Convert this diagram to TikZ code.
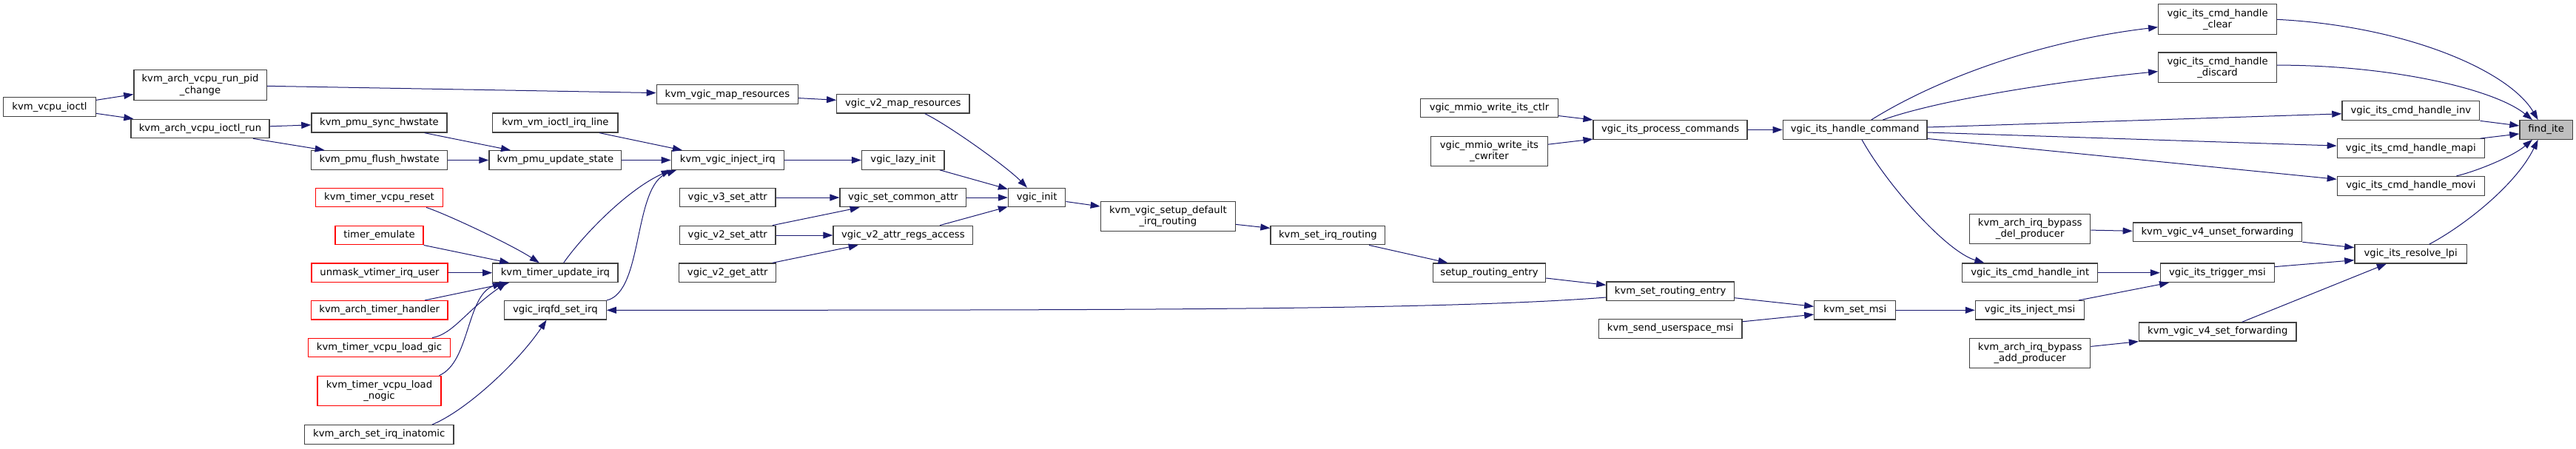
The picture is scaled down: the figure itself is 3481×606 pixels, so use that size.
\documentclass[tikz,border=0pt]{standalone}
\usepackage{fontspec}
\setmainfont{DejaVu Sans}
\usetikzlibrary{arrows.meta}
\definecolor{edgec}{HTML}{191970}
\definecolor{boxc}{HTML}{404040}
\definecolor{findfill}{HTML}{BFBFBF}
\tikzset{
  box/.style={draw=boxc, line width=1.3pt, fill=white, inner sep=0pt, align=center,
    font=\fontsize{13.2}{15.1}\selectfont},
  trunc/.style={box, draw=red},
  focus/.style={box, fill=findfill},
  call/.style={draw=edgec, line width=1pt, -{Triangle[length=13pt,width=9pt]}},
}
\newcommand\mkbox[7][box]{%
  \pgfmathsetmacro\bxw{#5-#3}\pgfmathsetmacro\bxh{#6-#4}%
  \pgfmathsetmacro\bxx{(#3+#5)/2}\pgfmathsetmacro\bxy{-(#4+#6)/2}%
  \node[#1,minimum width=\bxw pt,minimum height=\bxh pt] (#2) at (\bxx,\bxy) {#7};}
\begin{document}
\begin{tikzpicture}[x=1pt,y=1pt]
\fill[white] (0,0) rectangle (3481,-606);
\useasboundingbox (0,0) rectangle (3481,-606);
% nodes
\mkbox{vcpuioctl}{4.6}{131.8}{129.5}{157.3}{kvm\_vcpu\_ioctl}
\mkbox{runpid}{180.9}{94.7}{360.2}{135.3}{kvm\_arch\_vcpu\_run\_pid\\\_change}
\mkbox{ioctlrun}{177}{161.2}{364}{186.7}{kvm\_arch\_vcpu\_ioctl\_run}
\mkbox{pmusync}{420.9}{153}{604.1}{179}{kvm\_pmu\_sync\_hwstate}
\mkbox{pmuflush}{420.5}{203.7}{604.8}{229.2}{kvm\_pmu\_flush\_hwstate}
\mkbox[trunc]{tvreset}{426.7}{254.3}{598.3}{279.8}{kvm\_timer\_vcpu\_reset}
\mkbox[trunc]{temul}{453}{305.3}{572}{330.8}{timer\_emulate}
\mkbox[trunc]{unmask}{421}{356}{605}{381.5}{unmask\_vtimer\_irq\_user}
\mkbox[trunc]{athandler}{420.5}{406.6}{605}{432}{kvm\_arch\_timer\_handler}
\mkbox[trunc]{loadgic}{416.5}{457.2}{608.5}{482.7}{kvm\_timer\_vcpu\_load\_gic}
\mkbox[trunc]{loadnogic}{429}{508.2}{596}{548.8}{kvm\_timer\_vcpu\_load\\\_nogic}
\mkbox{inatomic}{411.6}{574.7}{613}{600.2}{kvm\_arch\_set\_irq\_inatomic}
\mkbox{mapres}{887.3}{114.8}{1078.5}{140.3}{kvm\_vgic\_map\_resources}
\mkbox{v2mapres}{1130.7}{127.5}{1310}{153}{vgic\_v2\_map\_resources}
\mkbox{irqline}{665.8}{153}{835}{179}{kvm\_vm\_ioctl\_irq\_line}
\mkbox{pmuupd}{661}{203.7}{839.7}{229.2}{kvm\_pmu\_update\_state}
\mkbox{inject}{907.3}{203.7}{1059.2}{229.2}{kvm\_vgic\_inject\_irq}
\mkbox{lazy}{1164.6}{203.7}{1276}{229.2}{vgic\_lazy\_init}
\mkbox{v3set}{918.6}{254.3}{1048}{279.8}{vgic\_v3\_set\_attr}
\mkbox{common}{1135}{254.3}{1305.7}{279.8}{vgic\_set\_common\_attr}
\mkbox{v2set}{918.6}{305.3}{1048}{330.8}{vgic\_v2\_set\_attr}
\mkbox{regs}{1126}{305.3}{1314.6}{330.8}{vgic\_v2\_attr\_regs\_access}
\mkbox{v2get}{917.8}{356}{1048.8}{381.5}{vgic\_v2\_get\_attr}
\mkbox{tupd}{665.8}{356}{835}{381.5}{kvm\_timer\_update\_irq}
\mkbox{irqfd}{681.6}{406.6}{819.2}{432}{vgic\_irqfd\_set\_irq}
\mkbox{vinit}{1362.5}{254.3}{1439.8}{279.8}{vgic\_init}
\mkbox{setupdef}{1487.3}{272.5}{1669.4}{312.3}{kvm\_vgic\_setup\_default\\\_irq\_routing}
\mkbox{setirqr}{1717}{305.3}{1871.8}{330.8}{kvm\_set\_irq\_routing}
\mkbox{ctlr}{1919.7}{133.3}{2105.2}{158.5}{vgic\_mmio\_write\_its\_ctlr}
\mkbox{cwriter}{1933.6}{184.7}{2091.3}{224.5}{vgic\_mmio\_write\_its\\\_cwriter}
\mkbox{process}{2153.1}{162.7}{2361}{188.2}{vgic\_its\_process\_commands}
\mkbox{setupre}{1936.3}{356}{2088.6}{381.5}{setup\_routing\_entry}
\mkbox{setre}{2170.9}{381}{2343.3}{406.6}{kvm\_set\_routing\_entry}
\mkbox{userspace}{2160.5}{431.7}{2354}{457.2}{kvm\_send\_userspace\_msi}
\mkbox{handle}{2409.3}{162.7}{2604}{188.2}{vgic\_its\_handle\_command}
\mkbox{setmsi}{2451.8}{406.6}{2561.5}{432}{kvm\_set\_msi}
\mkbox{injmsi}{2669.4}{406.6}{2816.6}{432}{vgic\_its\_inject\_msi}
\mkbox{cmdint}{2651.6}{356}{2834.8}{381.5}{vgic\_its\_cmd\_handle\_int}
\mkbox{delprod}{2661.6}{289.5}{2824.7}{329.7}{kvm\_arch\_irq\_bypass\\\_del\_producer}
\mkbox{addprod}{2661.6}{457.6}{2824.7}{497.8}{kvm\_arch\_irq\_bypass\\\_add\_producer}
\mkbox{clear}{2916.7}{5.8}{3076.4}{46.4}{vgic\_its\_cmd\_handle\\\_clear}
\mkbox{discard}{2916.7}{71.1}{3076.4}{111.7}{vgic\_its\_cmd\_handle\\\_discard}
\mkbox{inv}{3164.9}{136.8}{3350.8}{162.7}{vgic\_its\_cmd\_handle\_inv}
\mkbox{mapi}{3158.3}{187.8}{3357.3}{213.3}{vgic\_its\_cmd\_handle\_mapi}
\mkbox{movi}{3158.3}{238.5}{3357.3}{264.4}{vgic\_its\_cmd\_handle\_movi}
\mkbox[focus]{findite}{3404.9}{162.7}{3476.4}{188.2}{find\_ite}
\mkbox{unset}{2882.3}{301}{3110.8}{326.6}{kvm\_vgic\_v4\_unset\_forwarding}
\mkbox{resolve}{3181.9}{330.8}{3333.4}{356}{vgic\_its\_resolve\_lpi}
\mkbox{trigger}{2919.4}{356}{3073.3}{381.5}{vgic\_its\_trigger\_msi}
\mkbox{setfwd}{2890.5}{436}{3103}{461}{kvm\_vgic\_v4\_set\_forwarding}
% edges
\draw[call] ([yshift=9.25]vcpuioctl.east) -- ([yshift=-12.5]runpid.west);
\draw[call] ([yshift=-8.85]vcpuioctl.east) -- ([xshift=4]ioctlrun.north west);
\draw[call] ([yshift=-1.3]runpid.east) -- ([yshift=1.95]mapres.west);
\draw[call] ([yshift=3.15]ioctlrun.east) -- ([yshift=-2.9]pmusync.west);
\draw[call] ([xshift=71.5]ioctlrun.south) -- ([xshift=-74]pmuflush.north);
\draw[call] ([xshift=61.2]pmusync.south) -- ([xshift=-60.4]pmuupd.north);
\draw[call] (pmuflush.east) -- (pmuupd.west);
\draw[call] ([xshift=59.6]irqline.south) -- ([xshift=-61.3]inject.north);
\draw[call] (pmuupd.east) -- (inject.west);
\draw[call] ([xshift=63.5]tvreset.south) .. controls (600,-288) and (690,-330) .. ([xshift=-21.6]tupd.north);
\draw[call] (temul.south east) -- ([xshift=-62.2]tupd.north);
\draw[call] (unmask.east) -- (tupd.west);
\draw[call] ([xshift=61.25]athandler.north) -- ([xshift=-62.2]tupd.south);
\draw[call] ([xshift=71.5]loadgic.north) .. controls (612,-452) and (630,-420) .. ([xshift=-66]tupd.south);
\draw[call] ([xshift=81]loadnogic.north) .. controls (635,-490) and (630,-400) .. ([xshift=-71.8]tupd.south);
\draw[call] ([xshift=71.6]inatomic.north) .. controls (630,-555) and (700,-490) .. ([xshift=-11.9]irqfd.south);
\draw[call] ([xshift=11.2]tupd.north) .. controls (790,-315) and (850,-255) .. (inject.south west);
\draw[call] (irqfd.north east) .. controls (870,-395) and (855,-250) .. ([xshift=-69]inject.south);
\draw[call] ([yshift=-8.2]setre.west) .. controls (1950,-419.3) and (1500,-419.3) .. (irqfd.east);
\draw[call] ([yshift=-5.05]mapres.east) -- ([yshift=4.95]v2mapres.west);
\draw[call] (inject.east) -- (lazy.west);
\draw[call] ([xshift=29.35]v2mapres.south) .. controls (1280,-168) and (1360,-225) .. ([xshift=-13.15]vinit.north);
\draw[call] ([xshift=49.7]lazy.south) -- ([yshift=-2]vinit.north west);
\draw[call] (common.east) -- (vinit.west);
\draw[call] ([xshift=49.7]regs.north) -- ([yshift=1]vinit.south west);
\draw[call] (v3set.east) -- (common.west);
\draw[call] ([xshift=60.5]v2set.north) -- ([xshift=-58.75]common.south);
\draw[call] (v2set.east) -- (regs.west);
\draw[call] ([xshift=60.5]v2get.north) -- ([xshift=-60.6]regs.south);
\draw[call] ([yshift=-5.45]vinit.east) -- ([yshift=13.4]setupdef.west);
\draw[call] ([yshift=-11]setupdef.east) -- ([yshift=9.65]setirqr.west);
\draw[call] ([xshift=55.6]setirqr.south) -- ([xshift=-56]setupre.north);
\draw[call] ([yshift=-7.25]setupre.east) -- ([yshift=8.5]setre.west);
\draw[call] ([yshift=-8.9]setre.east) -- ([yshift=5]setmsi.west);
\draw[call] ([yshift=9.65]userspace.east) -- ([yshift=-5.8]setmsi.west);
\draw[call] ([yshift=-10.6]ctlr.east) -- (process.north west);
\draw[call] ([yshift=9.4]cwriter.east) -- ([yshift=0.8]process.south west);
\draw[call] (process.east) -- (handle.west);
\draw[call] ([xshift=22]handle.north) .. controls (2620,-105) and (2760,-55) .. ([yshift=-10.6]clear.west);
\draw[call] ([xshift=37.55]handle.north) .. controls (2620,-135) and (2780,-110) .. ([yshift=-5.2]discard.west);
\draw[call] ([yshift=3.45]handle.east) -- ([yshift=-4.05]inv.west);
\draw[call] ([yshift=-3.55]handle.east) -- ([yshift=3.45]mapi.west);
\draw[call] ([yshift=-12]handle.east) -- ([yshift=9.15]movi.west);
\draw[call] ([xshift=9.35]handle.south) .. controls (2550,-250) and (2630,-340) .. ([xshift=-61.8]cmdint.north);
\draw[call] (setmsi.east) -- (injmsi.west);
\draw[call] ([yshift=-1.5]delprod.east) -- ([yshift=1.5]unset.west);
\draw[call] (cmdint.east) -- (trigger.west);
\draw[call] ([xshift=65.9]injmsi.north) -- ([xshift=-65.35]trigger.south);
\draw[call] ([yshift=9.3]addprod.east) -- (setfwd.south west);
\draw[call] (unset.south east) -- ([yshift=8.7]resolve.west);
\draw[call] ([yshift=8.15]trigger.east) -- ([yshift=-8.3]resolve.west);
\draw[call] ([xshift=32.85]setfwd.north) -- ([xshift=-32.85]resolve.south);
\draw[call] ([yshift=-0.2]clear.east) .. controls (3250,-35) and (3390,-95) .. ([xshift=-11]findite.north);
\draw[call] ([yshift=3.3]discard.east) .. controls (3230,-88) and (3370,-120) .. ([xshift=-18.65]findite.north);
\draw[call] (inv.south east) -- ([yshift=5.45]findite.west);
\draw[call] ([xshift=-6.5]mapi.north east) -- ([yshift=-5.45]findite.west);
\draw[call] ([xshift=61.6]movi.north) .. controls (3345,-232) and (3395,-212) .. ([xshift=-18.65]findite.south);
\draw[call] ([xshift=25.05]resolve.north) .. controls (3330,-305) and (3400,-250) .. ([xshift=-11]findite.south);
\end{tikzpicture}
\end{document}
